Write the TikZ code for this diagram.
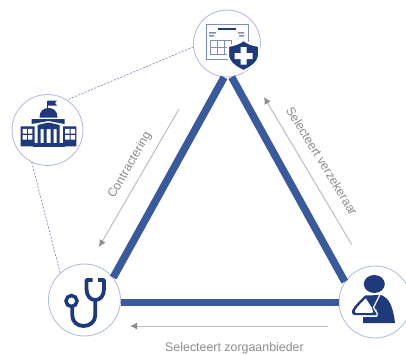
\documentclass[tikz,border=0pt]{standalone}
\usepackage{fontspec}
\setmainfont{Liberation Sans}
\definecolor{navy}{HTML}{1F3A7A}
\definecolor{tri}{HTML}{3B5A9B}
\definecolor{ring}{HTML}{B4C0DC}
\definecolor{greyline}{HTML}{BDBDBD}
\definecolor{greyhead}{HTML}{8C8C8C}
\definecolor{greytext}{HTML}{8C8C8C}
\definecolor{dashc}{HTML}{7F8DB8}
\usetikzlibrary{arrows.meta}
\tikzset{
  hub/.style={circle,draw=ring,line width=0.9pt,fill=white,minimum size=#1,inner sep=0pt},
  triedge/.style={draw=tri,line width=7.5pt},
  link/.style={draw=dashc,line width=0.7pt,dash pattern=on 2pt off 1.5pt},
  flow/.style={draw=greyline,line width=1pt,-{Latex[length=7pt,width=7pt,color=greyhead]}},
  lab/.style={text=greytext,font=\fontsize{12.4}{14}\selectfont,inner sep=0pt},
}
\begin{document}
\begin{tikzpicture}[x=1pt,y=-1pt]
\useasboundingbox (0,0) rectangle (406,354);
\node[hub=67pt] (top) at (227,43.5) {};
\node[hub=71pt] (gov) at (47.5,130) {};
\node[hub=72pt] (doc) at (84.5,300) {};
\node[hub=72pt] (pat) at (375,302) {};
% triangle
\draw[triedge] (doc.38) -- (top.265);
\draw[triedge] (pat.146) -- (top.278);
\draw[triedge] (doc.-4) -- (doc.-4 -| pat.west);
% dashed
\draw[link] (top.186) -- (gov.57);
\draw[link] (gov.244) -- (doc.132);
% arrows
\coordinate (c1) at (179,109);\coordinate (c2) at (99,247);
\coordinate (v1) at (352,245);\coordinate (v2) at (264,97);
\coordinate (z1) at (328,326);\coordinate (z2) at (130,326);
\draw[flow] (c1) -- (c2);
\draw[flow] (v1) -- (v2);
\draw[flow] (z1) -- (z2);
\node[lab,rotate=60] (tc) at (130,165) {Contractering};
\node[lab,rotate=-58.5] (tv) at (322,161) {Selecteert verzekeraar};
\node[lab] (tz) at (234.5,348) {Selecteert zorgaanbieder};
% form + shield icon
\begin{scope}[shift={(top.center)}]
 \draw[draw=dashc,line width=0.9pt] (-21,-19.5) rectangle (21,16);
 \fill[navy] (-9,-15.5) rectangle (9,-14);
 \fill[dashc] (-18,-11.5) rectangle (-11,-10) (-18,-8.5) rectangle (-13,-7) (11,-11.5) rectangle (17,-10) (12,-8.5) rectangle (17,-7);
 \draw[draw=dashc,line width=0.8pt] (-17,-3) rectangle (4,11) (-17,4) -- (4,4) (-10,-3) -- (-10,11) (-3,-3) -- (-3,11);
 \path[draw=white,line width=2pt,fill=navy] (16.5,-3.5) .. controls (12,0) and (7,1.5) .. (1,2.5) -- (1,11) .. controls (1,19) and (9,24) .. (16.5,27.5) .. controls (24,24) and (32,19) .. (32,11) -- (32,2.5) .. controls (26,1.5) and (21,0) .. (16.5,-3.5) -- cycle;
 \fill[white] (13.5,3.5) rectangle (19.5,21) (7.5,9.5) rectangle (25.5,15.5);
\end{scope}
% building icon
\begin{scope}[shift={(gov.center)}]
 \draw[navy,line width=0.9pt] (0,-29) -- (0,-20);
 \fill[navy] (0.3,-29.5) -- (9.5,-29.5) -- (7.5,-27) -- (9.5,-24.5) -- (0.3,-24.5) -- cycle;
 \fill[navy] (-8,-12.5) .. controls (-8,-19) and (-4,-22) .. (1,-22) .. controls (6,-22) and (10,-19) .. (10,-12.5) -- cycle;
 \fill[navy] (-16,-11) -- (17,-11) -- (17,-6) -- (1,-9) -- (-16,-6) -- cycle;
 \fill[navy] (-10,-5) -- (1,-7.5) -- (12,-5) -- (12,-1) -- (-10,-1) -- cycle;
 \fill[navy] (-27,-3.7) rectangle (-13,16.3) (15.5,-3.7) rectangle (28.8,16.3);
 \fill[navy] (-10,-1) rectangle (-7,13) (-4,-1) rectangle (-1,13) (3,-1) rectangle (6,13) (9,-1) rectangle (12,13);
 \fill[navy] (-15,13) rectangle (17,17);
 \fill[white] (-25,-1.2) rectangle (-20.7,3.5) (-19.5,-1.2) rectangle (-15.2,3.5) (-25,5) rectangle (-20.7,9.7) (-19.5,5) rectangle (-15.2,9.7);
 \fill[white] (17.7,-1.2) rectangle (22,3.5) (23.2,-1.2) rectangle (27.5,3.5) (17.7,5) rectangle (22,9.7) (23.2,5) rectangle (27.5,9.7);
\end{scope}
% stethoscope icon
\begin{scope}[shift={(doc.center)}]
 \draw[navy,line width=3.8pt,line join=round] (8,-20) -- (2,-20) -- (2,-11) .. controls (2,-4) and (6,0) .. (10.8,0) .. controls (15.5,0) and (19.5,-4) .. (19.5,-11) -- (19.5,-20) -- (13.5,-20);
 \draw[navy,line width=3.8pt] (10.8,0) -- (10.8,15) .. controls (10.8,22) and (5,26) .. (-1,26) .. controls (-7,26) and (-12.3,22) .. (-12.3,15) -- (-12.3,7);
 \draw[navy,line width=3.5pt,fill=white] (-13,1) circle (5.5);
\end{scope}
% patient icon
\begin{scope}[shift={(pat.center)}]
 \fill[navy] (-0.7,-18) ellipse (10.5 and 9);
 \fill[navy] (-10,-6.5) -- (6,-7) .. controls (14,-4) and (18,4) .. (20,21) -- (-12,21) -- (-12,15) -- (2,15) -- (2,8) -- (-2,5) -- cycle;
 \fill[navy] (-10,-6.5) .. controls (-15,-1) and (-21,4) .. (-22.7,8) .. controls (-23.5,11) and (-22.5,13) .. (-20.7,13) -- (1.7,13.5) -- (2.5,10) -- (-2,4) -- cycle;
 \fill[white] (-9.3,-3.7) .. controls (-13,0) and (-18,5) .. (-20,8.7) .. controls (-20.5,10.5) and (-19.5,11) .. (-18,11) -- (-1.7,10.7) -- (-3,6) -- cycle;
 \draw[white,line width=1.2pt,line join=round] (5,-7.5) -- (-1.5,5.5) -- (2.5,12) -- (1.5,14.3) -- (-12,14.3);
\end{scope}
\end{tikzpicture}
\end{document}
